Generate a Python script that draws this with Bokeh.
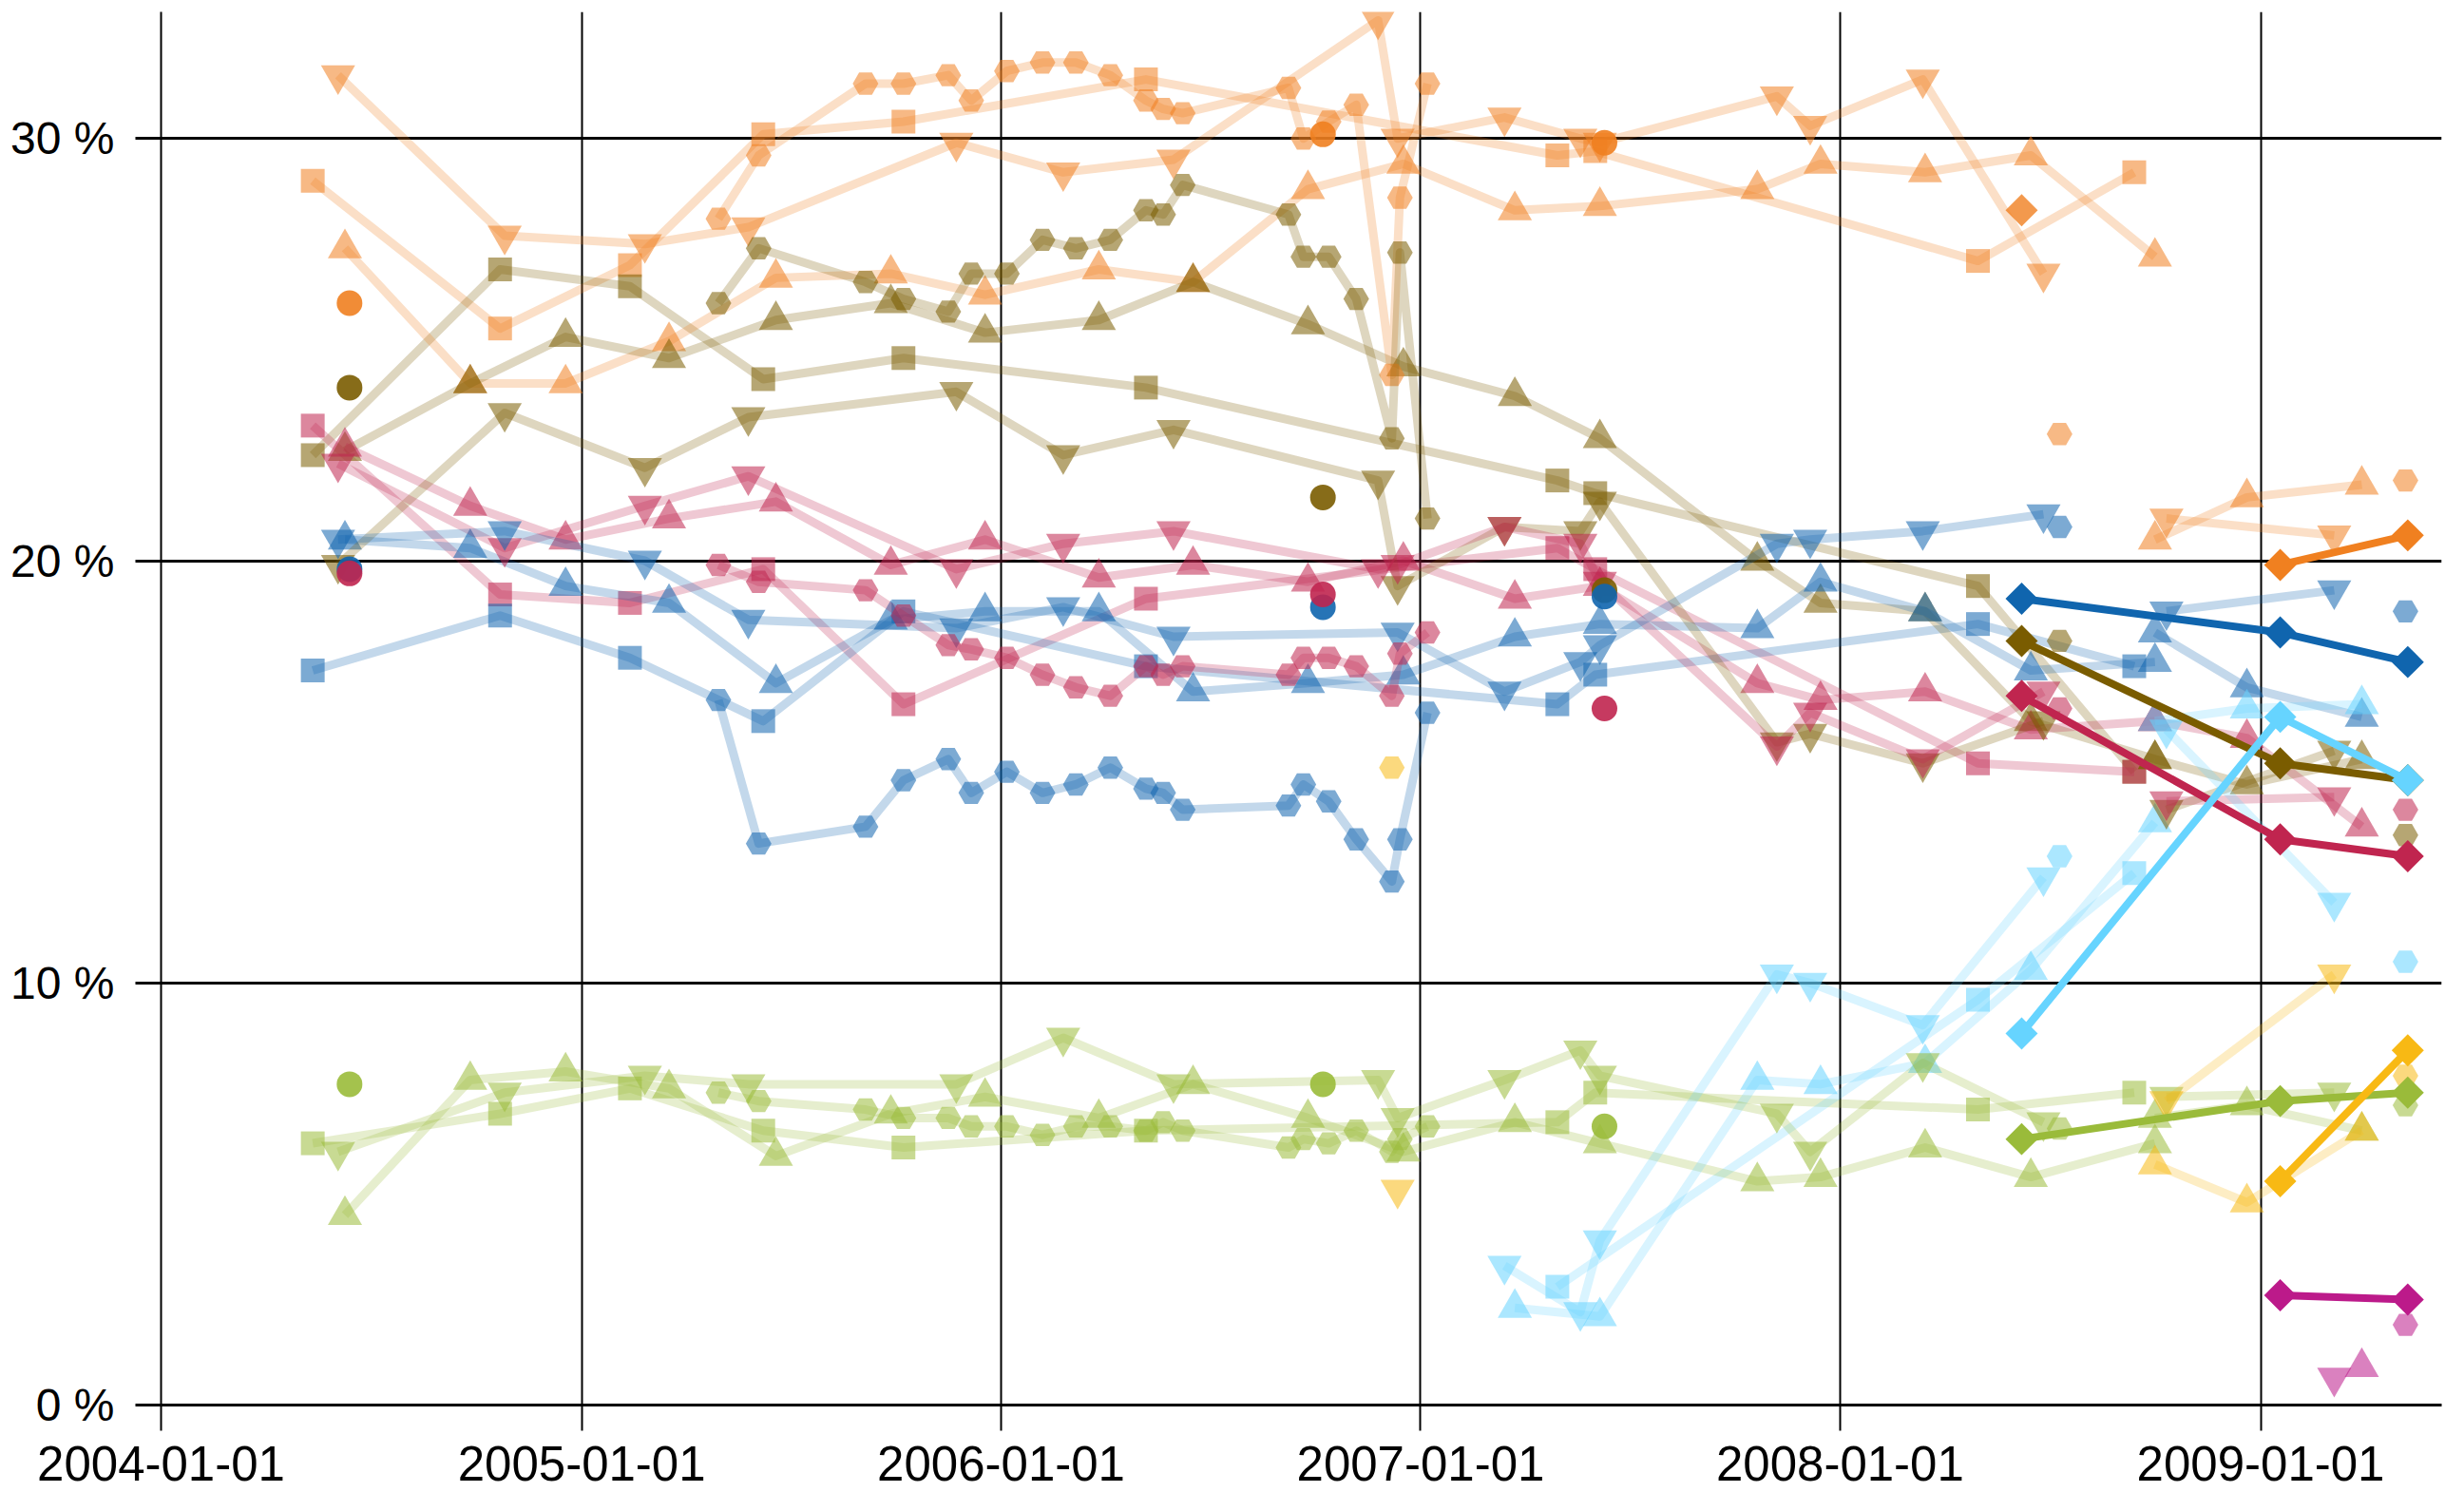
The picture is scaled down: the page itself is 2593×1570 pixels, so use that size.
import math
import pandas as pd
from bokeh.plotting import figure
from bokeh.models import (Range1d, FixedTicker, DatetimeTickFormatter, PrintfTickFormatter,
                          ColumnDataSource, Label)
from bokeh.embed import file_html
from bokeh.resources import INLINE

COLORS = dict(orange="#F08020", brown="#7A5C00", blue="#1065AE", red="#C0254F",
              green="#9ABB3A", cyan="#66D4FF", yellow="#F8B914", magenta="#BC1A8A")

# ---- pollster drawn with squares ----
sq_dates = ["2004-05-12", "2004-10-22", "2005-02-12", "2005-06-08", "2005-10-08",
            "2006-05-07", "2007-04-30", "2007-06-02", "2008-04-30", "2008-09-13"]
sq_orange = [29.0, 25.5, 27.0, 30.1, 30.4, 31.4, 29.6, 29.7, 27.1, 29.2]
sq_brown = [22.5, 26.9, 26.5, 24.3, 24.8, 24.1, 21.9, 21.6, 19.4, 15.0]
sq_red = [23.2, 19.2, 19.0, 19.8, 16.6, 19.1, 20.3, 19.8, 15.2, 15.0]
sq_blue = [17.4, 18.7, 17.7, 16.2, 18.8, 17.5, 16.6, 17.3, 18.5, 17.5]
sq_green = [6.2, 6.9, 7.5, 6.5, 6.1, 6.5, 6.7, 7.4, 7.0, 7.4]
sq_cyan = [None, None, None, None, None, None, 2.8, None, 9.6, 12.6]

# ---- pollster drawn with upward triangles ----
tu_dates = ["2004-06-09", "2004-09-26", "2004-12-18", "2005-03-18", "2005-06-19", "2005-09-27",
            "2005-12-18", "2006-03-27", "2006-06-17", "2006-09-25", "2006-12-17", "2007-03-24",
            "2007-06-06", "2007-10-21", "2007-12-15", "2008-03-15", "2008-06-15", "2008-10-01"]
tu_orange = [27.4, 24.2, 24.2, 25.2, 26.7, 26.8, 26.3, 26.9, 26.6, 28.8, 29.4, 28.3, 28.4, 28.8, 29.4, 29.2, 29.6, 27.2]
tu_brown = [22.6, 24.2, 25.3, 24.8, 25.7, 26.1, 25.4, 25.7, 26.6, 25.6, 24.6, 23.9, 22.9, 20.0, 19.0, 18.8, 16.2, 15.3]
tu_red = [22.7, 21.3, 20.5, 21.0, 21.4, 19.9, 20.5, 19.6, 19.9, 19.5, 20.0, 19.1, 19.4, 17.1, 16.7, 16.9, 16.0, 16.2]
tu_blue = [20.5, 20.3, 19.4, 19.0, 17.1, 18.6, 18.8, 18.8, 16.9, 17.1, 17.3, 18.2, 18.5, 18.4, 19.5, 18.8, 17.4, 17.6]
tu_green = [4.5, 7.7, 7.9, 7.5, 5.9, 6.9, 7.3, 6.8, 7.6, 6.8, 6.0, 6.7, 6.2, 5.3, 5.4, 6.1, 5.4, 6.2]
tu_cyan = [None] * 11 + [2.3, 2.1, 7.7, 7.6, 8.1, 10.3, 13.8]
tu2_dates = ["2008-10-01", "2008-12-20", "2009-03-30"]
tu2_orange = [20.5, 21.5, 21.8]
tu2_brown = [15.3, 14.7, 15.3]
tu2_red = [16.2, 15.8, 13.7]
tu2_blue = [18.3, 17.0, 16.3]
tu2_green = [6.8, 7.1, 6.5]
tu2_cyan = [16.2, 16.5, 16.6]
tu2_yellow = [5.7, 4.8, 6.5]
tu2_magenta = [None, None, 0.9]

# ---- pollster drawn with downward triangles ----
td_dates = ["2004-06-03", "2004-10-26", "2005-02-25", "2005-05-26", "2005-11-23", "2006-02-24",
            "2006-05-31", "2006-11-25", "2006-12-12", "2007-03-15", "2007-05-20", "2007-06-06",
            "2007-11-07", "2007-12-06", "2008-03-13", "2008-06-26"]
td_orange = [31.5, 27.7, 27.5, 27.9, 29.9, 29.2, 29.5, 32.8, 30.0, 30.5, 30.0, 29.9, 31.0, 30.3, 31.4, 26.8]
td_brown = [19.9, 23.5, 22.2, 23.4, 24.0, 22.5, 23.1, 21.9, 19.4, 20.8, 20.7, 21.4, 15.7, 15.9, 15.2, 16.2]
td_red = [22.3, 20.3, 21.3, 22.0, 19.8, 20.4, 20.7, 19.8, 19.9, 20.8, 20.4, 19.5, 15.6, 16.4, 15.3, 16.9]
td_blue = [20.5, 20.7, 20.0, 18.6, 18.4, 18.9, 18.2, None, 18.3, 16.9, 17.6, 18.0, 20.4, 20.5, 20.7, 21.1]
td_green = [6.0, 7.4, 7.8, 7.6, 7.6, 8.7, 7.6, 7.7, 6.8, 7.7, 8.4, 7.8, 6.9, 6.0, 8.1, 6.7]
td_cyan = [None] * 9 + [3.3, 2.2, 3.9, 10.2, 10.0, 9.0, 12.5]
td_yellow = [None] * 8 + [5.1] + [None] * 7
td2_dates = ["2008-10-11", "2009-03-06"]
td2_orange = [21.0, 20.6]
td2_brown = [14.1, 15.5]
td2_red = [14.3, 14.4]
td2_blue = [18.8, 19.3]
td2_green = [7.3, 7.4]
td2_cyan = [16.0, 11.9]
td2_yellow = [7.2, 10.2]
td2_magenta = [None, 0.65]

# ---- pollster drawn with hexagons ----
hx_dates = ["2005-04-30", "2005-06-04", "2005-09-05", "2005-10-08", "2005-11-16", "2005-12-06",
            "2006-01-06", "2006-02-06", "2006-03-07", "2006-04-06", "2006-05-07", "2006-05-22",
            "2006-06-08", "2006-09-08", "2006-09-21", "2006-10-13", "2006-11-06", "2006-12-07",
            "2006-12-14", "2007-01-07"]
hx_orange = [28.1, 29.6, 31.3, 31.3, 31.5, 30.9, 31.6, 31.8, 31.8, 31.5, 30.9, 30.7, 30.6, 31.2, 30.0, 30.4, 30.8, 24.4, 28.6, 31.3]
hx_brown = [26.1, 27.4, 26.6, 26.2, 25.9, 26.8, 26.8, 27.6, 27.4, 27.6, 28.3, 28.2, 28.9, 28.2, 27.2, 27.2, 26.2, 22.9, 27.3, 21.0]
hx_red = [19.9, 19.5, 19.3, 18.7, 18.0, 17.9, 17.7, 17.3, 17.0, 16.8, 17.5, 17.3, 17.5, 17.3, 17.7, 17.7, 17.5, 16.8, 17.8, 18.3]
hx_blue = [16.7, 13.3, 13.7, 14.8, 15.3, 14.5, 15.0, 14.5, 14.7, 15.1, 14.6, 14.5, 14.1, 14.2, 14.7, 14.3, 13.4, 12.4, 13.4, 16.4]
hx_green = [7.4, 7.2, 7.0, 6.8, 6.8, 6.6, 6.6, 6.4, 6.6, 6.6, 6.5, 6.7, 6.5, 6.1, 6.3, 6.2, 6.5, 6.0, 6.3, 6.6]
hx_yellow = [None] * 17 + [15.1, None, None]
hxl_dates = ["2008-07-10", "2009-05-07"]
hxl_orange = [23.0, 21.9]
hxl_brown = [18.1, 13.5]
hxl_red = [16.5, 14.1]
hxl_blue = [20.8, 18.8]
hxl_green = [6.55, 7.1]
hxl_cyan = [13.0, 10.5]
hxl_yellow = [None, 7.8]
hxl_magenta = [None, 1.9]

# ---- election results (circles) ----
ci_dates = ["2004-06-13", "2006-10-08", "2007-06-10"]
ci_orange = [26.1, 30.1, 29.9]
ci_brown = [24.1, 21.5, 19.3]
ci_blue = [19.8, 18.9, 19.15]
ci_red = [19.7, 19.2, 16.5]
ci_green = [7.6, 7.6, 6.6]

# ---- averages (diamonds) ----
dm_dates = ["2008-06-07", "2009-01-18", "2009-05-09"]
dm_orange = [None, 19.9, 20.6]
dm_orange_cartel = [28.3, None, None]
dm_blue = [19.1, 18.3, 17.6]
dm_brown = [18.1, 15.2, 14.8]
dm_red = [16.8, 13.4, 13.0]
dm_cyan = [8.8, 16.3, 14.8]
dm_green = [6.3, 7.2, 7.4]
dm_yellow = [None, 5.3, 8.4]
dm_magenta = [None, 2.6, 2.5]

SIZES = {"square": 25, "triangle": 36, "inverted_triangle": 36, "hex": 27, "circle": 27}


def pts(dates, vals):
    xs = [pd.Timestamp(d) for d, v in zip(dates, vals) if v is not None]
    ys = [v for v in vals if v is not None]
    return ColumnDataSource(dict(x=xs, y=ys))


p = figure(width=2593, height=1570, x_axis_type="datetime",
           x_range=Range1d(pd.Timestamp("2004-01-01"), pd.Timestamp("2009-06-07 12:00")),
           y_range=Range1d(0, 33), output_backend="svg", toolbar_location=None,
           min_border_left=169, min_border_right=24, min_border_top=12, min_border_bottom=92)
p.outline_line_color = None
p.background_fill_color = "white"
p.border_fill_color = "white"

light = [
    ("square", sq_dates, [("orange", sq_orange), ("brown", sq_brown), ("red", sq_red),
                          ("blue", sq_blue), ("green", sq_green), ("cyan", sq_cyan)], True),
    ("triangle", tu_dates, [("orange", tu_orange), ("brown", tu_brown), ("red", tu_red),
                            ("blue", tu_blue), ("green", tu_green), ("cyan", tu_cyan)], True),
    ("triangle", tu2_dates, [("orange", tu2_orange), ("brown", tu2_brown), ("red", tu2_red),
                             ("blue", tu2_blue), ("green", tu2_green), ("cyan", tu2_cyan),
                             ("yellow", tu2_yellow), ("magenta", tu2_magenta)], True),
    ("inverted_triangle", td_dates, [("orange", td_orange), ("brown", td_brown), ("red", td_red),
                                     ("blue", td_blue), ("green", td_green), ("cyan", td_cyan),
                                     ("yellow", td_yellow)], True),
    ("inverted_triangle", td2_dates, [("orange", td2_orange), ("brown", td2_brown), ("red", td2_red),
                                      ("blue", td2_blue), ("green", td2_green), ("cyan", td2_cyan),
                                      ("yellow", td2_yellow), ("magenta", td2_magenta)], True),
    ("hex", hx_dates, [("orange", hx_orange), ("brown", hx_brown), ("red", hx_red),
                       ("blue", hx_blue), ("green", hx_green), ("yellow", hx_yellow)], True),
    ("hex", hxl_dates, [("orange", hxl_orange), ("brown", hxl_brown), ("red", hxl_red),
                        ("blue", hxl_blue), ("green", hxl_green), ("cyan", hxl_cyan),
                        ("yellow", hxl_yellow), ("magenta", hxl_magenta)], False),
]

for marker, dates, series, connect in light:
    for party, vals in series:
        src = pts(dates, vals)
        col = COLORS[party]
        if connect and len(src.data["x"]) > 1:
            p.line("x", "y", source=src, line_color=col, line_alpha=0.25, line_width=9,
                   line_join="round")
        p.scatter("x", "y", source=src, marker=marker, size=SIZES[marker],
                  fill_color=col, fill_alpha=0.55, line_color=None)

for party, vals in [("orange", ci_orange), ("brown", ci_brown), ("blue", ci_blue),
                    ("red", ci_red), ("green", ci_green)]:
    p.scatter("x", "y", source=pts(ci_dates, vals), marker="circle", size=27,
              fill_color=COLORS[party], fill_alpha=0.9, line_color=None)

p.scatter("x", "y", source=pts(dm_dates, dm_orange_cartel), marker="square", angle=math.pi / 4,
          size=24, fill_color=COLORS["orange"], fill_alpha=0.8, line_color=None)
for party, vals in [("orange", dm_orange), ("blue", dm_blue), ("brown", dm_brown), ("red", dm_red),
                    ("cyan", dm_cyan), ("green", dm_green), ("yellow", dm_yellow),
                    ("magenta", dm_magenta)]:
    src = pts(dm_dates, vals)
    p.line("x", "y", source=src, line_color=COLORS[party], line_width=8)
    p.scatter("x", "y", source=src, marker="square", angle=math.pi / 4, size=24,
              fill_color=COLORS[party], line_color=None)

year_ticks = [pd.Timestamp(f"{y}-01-01").value / 1e6 for y in range(2004, 2010)]
xt = FixedTicker(ticks=year_ticks)
p.xaxis.ticker = xt
p.xgrid.ticker = xt
fmt = "%Y-%m-%d"
p.xaxis.formatter = DatetimeTickFormatter(years=fmt, months=fmt, days=fmt, hours=fmt,
                                          hourmin=fmt, minutes=fmt, seconds=fmt)
yt = FixedTicker(ticks=[0, 10, 20, 30])
p.yaxis.ticker = yt
p.ygrid.ticker = yt
p.yaxis.formatter = PrintfTickFormatter(format="%d %%")

p.xgrid.grid_line_color = "black"
p.xgrid.grid_line_width = 2
p.ygrid.grid_line_color = "black"
p.ygrid.grid_line_width = 3

LABEL_FONT = "Liberation Sans"

p.xaxis.axis_line_color = "black"
p.xaxis.axis_line_width = 3
p.xaxis.major_tick_line_color = "black"
p.xaxis.major_tick_line_width = 2
p.xaxis.major_tick_out = 27
p.xaxis.major_tick_in = 0
p.xaxis.minor_tick_line_color = None
p.xaxis.major_label_standoff = 16
p.xaxis.major_label_text_line_height = 0.8
p.xaxis.major_label_text_font = LABEL_FONT
p.xaxis.major_label_text_font_size = "51px"
p.xaxis.major_label_text_color = "black"

p.yaxis.axis_line_color = "black"
p.yaxis.axis_line_width = 2
p.yaxis.major_tick_line_color = "black"
p.yaxis.major_tick_line_width = 3
p.yaxis.major_tick_out = 27
p.yaxis.major_tick_in = 0
p.yaxis.minor_tick_line_color = None
p.yaxis.major_label_standoff = 22
p.yaxis.major_label_text_font = LABEL_FONT
p.yaxis.major_label_text_font_size = "48px"
p.yaxis.major_label_text_color = "black"

p.add_layout(Label(x=pd.Timestamp("2009-06-18").value / 1e6, y=0, text="\u00a92009 Filip van Laenen",
                   angle=math.pi / 2, text_align="left", text_baseline="middle",
                   text_font="DejaVu Sans", text_font_size="17px", text_color="#999999"))

open("out.html", "w").write(file_html(p, INLINE))
